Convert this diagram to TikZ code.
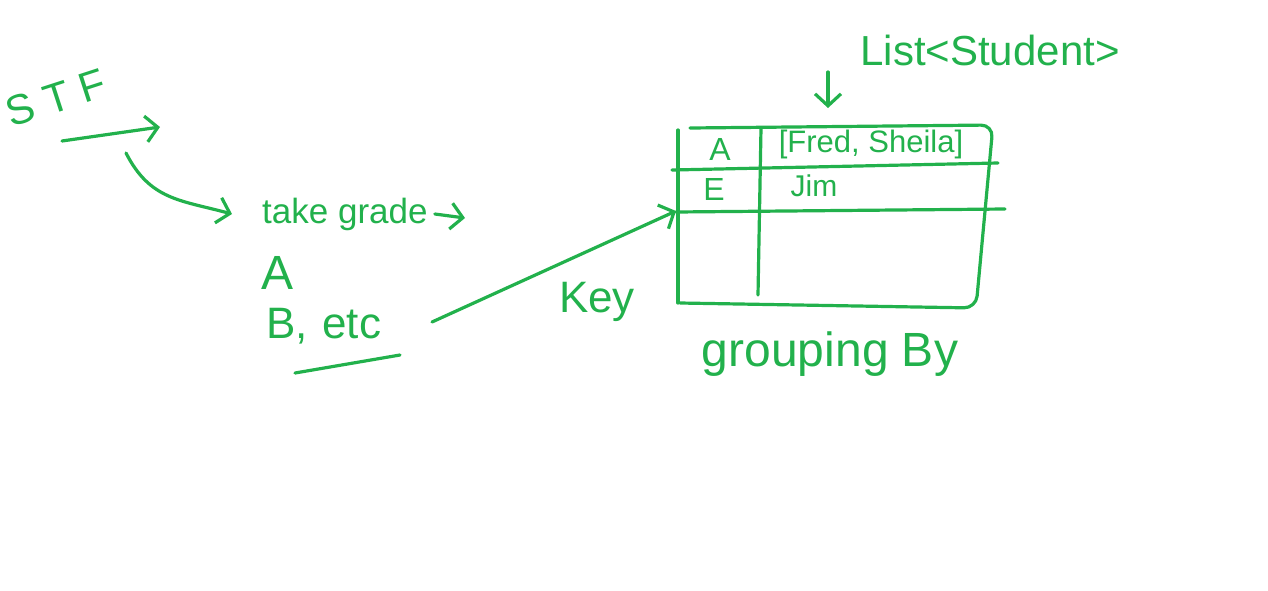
\documentclass[tikz,border=0pt]{standalone}
\usepackage{fontspec}
\setmainfont{Liberation Sans}
\usetikzlibrary{arrows.meta}
\definecolor{ink}{RGB}{34,177,76}
\tikzset{
  pen/.style={draw=ink, line width=3.2pt, line cap=round, line join=round},
  arr/.style={pen, -{Straight Barb[length=12pt,width=26pt,line width=3.2pt]}},
  hw/.style={text=ink, inner sep=0pt, font=\fontsize{#1}{#1}\selectfont},
}
\begin{document}
\begin{tikzpicture}[x=1pt,y=-1pt]
\useasboundingbox (0,0) rectangle (1268,590);
% left side
\node[hw=42, rotate=18] (stf) at (56,98) {S T F};
\coordinate (a1s) at (62,141);
\coordinate (a1e) at (160,127);
\draw[arr] (a1s) -- (a1e);
\coordinate (c1) at (126,153);
\node[hw=35, anchor=west] (tg) at (262,214) {take grade};
\coordinate (tgend) at (465,218);
\draw[arr] (c1) .. controls (150,200) and (180,200) .. ([xshift=-30pt]tg.west);
\draw[arr] ([xshift=7pt]tg.east) -- (tgend);
\node[hw=48] (ga) at (278,273) {A};
\node[hw=44, anchor=west] (gb) at (266,326) {B,\,\,etc};
\coordinate (ks) at (432,322);
\coordinate (u1) at (295,373);
\coordinate (u2) at (400,355);
\draw[pen] (u1) -- (u2);
\node[hw=44] (key) at (597,302) {Key};
% table
\coordinate (tbl) at (676,211);
\draw[pen] (678,130) -- (678,303);
\draw[pen, rounded corners=12pt] (690,128) -- (993,125) -- (976,308) -- (680,303);
\draw[pen] (672,170) -- (998,163);
\draw[pen] (676,212) -- (1005,209);
\draw[pen] (761,128) -- (758,295);
\node[hw=32] (ca) at (720,149) {A};
\node[hw=32] (ce) at (714,189) {E};
\node[hw=31] (cfs) at (871,144) {[Fred, Sheila]};
\node[hw=30] (cj) at (814,186) {Jim};
\draw[arr] (ks) -- (tbl);
\node[hw=42] (list) at (990,50) {List<Student>};
\coordinate (d1) at (828,72);
\coordinate (d2) at (828,108);
\draw[arr] (d1) -- (d2);
\node[hw=48] (gby) at (830,354) {grouping By};
\end{tikzpicture}
\end{document}
